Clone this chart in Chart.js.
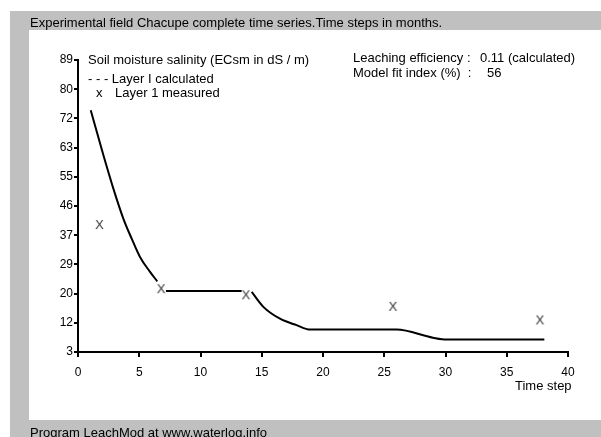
<!DOCTYPE html>
<html lang="en">
<head>
  <meta charset="UTF-8" />
  <title>LeachMod Chacupe</title>
  <script src="https://cdn.jsdelivr.net/npm/chart.js"></script>
  <style>
    body { margin: 0; background: #fff; font-family: 'Liberation Sans', Arial, sans-serif; font-size: 13px; color: #000; }
    #wrap { position: relative; width: 601px; height: 437px; overflow: hidden; }
    .frame { position: absolute; left: 10px; top: 11px; width: 591px; height: 426px; background: #c0c0c0; }
    .panel { position: absolute; left: 29px; top: 30px; width: 572px; height: 390px; background: #fff; }
    canvas { position: absolute; left: 0; top: 0; }
    .txt { position: absolute; white-space: pre; line-height: 15px; }
  </style>
</head>
<body>
<div id="wrap">
  <div class="frame"></div>
  <div class="panel"></div>
  <canvas id="chart" width="601" height="437"></canvas>
  <div class="txt" style="left:30px; top:15px;">Experimental field Chacupe complete time series.Time steps in months.</div>
  <div class="txt" style="left:88px; top:52px;">Soil moisture salinity (ECsm in dS / m)</div>
  <div class="txt" style="left:88px; top:71px;">- - - Layer I calculated</div>
  <div class="txt" style="left:96px; top:85px;">x</div>
  <div class="txt" style="left:115px; top:85px;">Layer 1 measured</div>
  <div class="txt" style="left:353px; top:50px;">Leaching efficiency :</div>
  <div class="txt" style="left:480px; top:50px;">0.11 (calculated)</div>
  <div class="txt" style="left:353px; top:65px;">Model fit index (%)  :</div>
  <div class="txt" style="left:487px; top:65px;">56</div>
  <div class="txt" style="left:515px; top:378px;">Time step</div>
  <div class="txt" style="left:30px; top:425px;">Program LeachMod at www.waterlog.info</div>
</div>

<script>
  // calculated salinity, layer 1 (null = break in the line)
  const calcT = [1.04, 2.07, 2.88, 3.70, 4.38, 5.06, 5.88, 6.47, null,
                 7.18, 13.36, null,
                 14.18, 15.13, 16.49, 17.85, 18.94, 26.0, 28.98, 30.1, 38.07];
  const calcV = [74.2, 61.0, 51.2, 42.3, 36.4, 31.0, 26.6, 23.8, null,
                 21.0, 21.0, null,
                 20.7, 16.3, 12.8, 10.9, 9.6, 9.6, 7.2, 6.65, 6.65];

  // measured salinity, layer 1
  const measT = [1.74, 6.78, 13.7, 25.7, 37.7];
  const measV = [40.4, 21.5, 19.7, 16.3, 12.3];

  const yTickLabels = [3, 12, 20, 29, 37, 46, 55, 63, 72, 80, 89];
  const yMin = 3, yMax = 89;

  const calcData = calcT.map((t, i) => ({ x: t === null ? (calcT[i - 1] + calcT[i + 1]) / 2 : t, y: calcV[i] }));
  const measData = measT.map((t, i) => ({ x: t, y: measV[i] }));

  // letter X used as point marker
  const xMark = document.createElement('canvas');
  xMark.width = 11; xMark.height = 14;
  const mctx = xMark.getContext('2d');
  mctx.font = '13px "Liberation Sans", Arial, sans-serif';
  mctx.fillStyle = '#333';
  mctx.textAlign = 'center';
  mctx.textBaseline = 'middle';
  mctx.fillText('X', 5.5, 7.5);

  const font = { family: "'Liberation Sans', Arial, sans-serif", size: 12 };

  new Chart(document.getElementById('chart'), {
    type: 'scatter',
    data: {
      datasets: [{
        label: 'Layer I calculated',
        data: calcData,
        showLine: true,
        spanGaps: false,
        borderColor: '#000',
        borderWidth: 2,
        pointRadius: 0,
        cubicInterpolationMode: 'monotone'
      }, {
        label: 'Layer 1 measured',
        data: measData,
        showLine: false,
        pointStyle: xMark,
        pointRadius: 5
      }]
    },
    options: {
      responsive: false,
      animation: false,
      devicePixelRatio: 1,
      layout: { padding: { top: 60, right: 33, left: 0, bottom: 0 } },
      plugins: { legend: { display: false }, tooltip: { enabled: false } },
      scales: {
        x: {
          type: 'linear', min: 0, max: 40,
          afterFit: s => { s.height = 85; },
          ticks: { stepSize: 5, color: '#000', font: font, padding: 8, maxRotation: 0 },
          grid: { drawOnChartArea: false, drawTicks: true, tickLength: 5, color: '#000', lineWidth: 2 },
          border: { display: true, color: '#000', width: 2 }
        },
        y: {
          type: 'linear', min: yMin, max: yMax,
          afterFit: s => { s.width = 78; },
          afterBuildTicks: s => {
            s.ticks = yTickLabels.map((lab, i) => ({ value: yMin + i * (yMax - yMin) / (yTickLabels.length - 1) }));
          },
          ticks: {
            color: '#000', font: font, padding: 1,
            callback: (v, i) => yTickLabels[i]
          },
          grid: { drawOnChartArea: false, drawTicks: true, tickLength: 4, color: '#000', lineWidth: 2 },
          border: { display: true, color: '#000', width: 2 }
        }
      }
    }
  });
</script>
</body>
</html>
